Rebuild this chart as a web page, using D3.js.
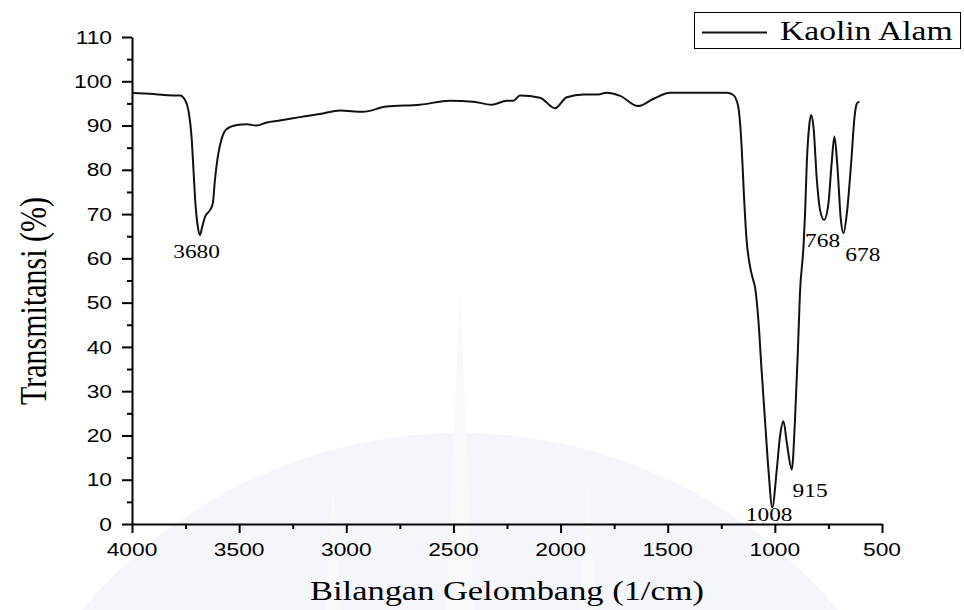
<!DOCTYPE html>
<html>
<head>
<meta charset="utf-8">
<script src="https://cdn.jsdelivr.net/npm/d3@7"></script>
<style>
  body { margin: 0; background: #fff; }
  svg { display: block; }
</style>
</head>
<body>
<svg id="chart" width="964" height="610"></svg>
<script>
// wavenumber (1/cm) and transmittance (%)
const wavenumber = [4000, 3900, 3850, 3800, 3776, 3753, 3737, 3721, 3714, 3703, 3693, 3683, 3672, 3659, 3636, 3623, 3613, 3597, 3581, 3558, 3511, 3465, 3418, 3371, 3317, 3216, 3123, 3029, 2922, 2812, 2656, 2516, 2408, 2321, 2251, 2221, 2189, 2096, 2026, 1971, 1893, 1831, 1785, 1722, 1638, 1568, 1489, 1225, 1194, 1171, 1155, 1144, 1132, 1116, 1101, 1093, 1077, 1062, 1046, 1030, 1012, 991, 976, 960, 944, 921, 906, 893, 883, 866, 859, 851, 840, 831, 820, 804, 789, 770, 750, 735, 722, 708, 692, 680, 664, 644, 628, 617, 605];
const transmit = [97.4, 97.1, 96.9, 96.8, 96.8, 95.8, 93.5, 86.7, 80.8, 71.7, 67.2, 65.3, 67.2, 69.4, 70.9, 72.4, 77.7, 83.7, 87.1, 89.2, 90.1, 90.3, 90.0, 90.7, 91.1, 91.9, 92.6, 93.4, 93.1, 94.3, 94.7, 95.6, 95.4, 94.7, 95.6, 95.6, 96.8, 96.3, 93.9, 96.4, 97.0, 97.0, 97.4, 96.7, 94.4, 96.0, 97.4, 97.4, 96.9, 94.3, 85.2, 74.0, 64.2, 58.2, 55.1, 53.6, 46.1, 34.8, 23.5, 12.3, 3.8, 12.3, 19.8, 23.2, 18.3, 12.3, 23.5, 38.6, 52.0, 63.0, 70.2, 81.5, 89.8, 92.4, 89.8, 77.7, 70.9, 68.7, 72.4, 81.5, 87.5, 80.7, 68.7, 65.7, 70.2, 81.5, 92.0, 95.0, 95.4];

const xTicks = [4000, 3500, 3000, 2500, 2000, 1500, 1000, 500];
const yTicks = [0, 10, 20, 30, 40, 50, 60, 70, 80, 90, 100, 110];

// labelled peaks
const peakLabels = ["3680", "1008", "915", "768", "678"];
const peakValues = [3680, 1008, 915, 768, 678];
const peakDx = [-4, -4, 17, -2, 19];
const peakDy = [23, 14, 27, 27, 28];

const seriesName = "Kaolin Alam";

const svg = d3.select("#chart");
const plotLeft = 132, plotRight = 882, plotTop = 37, plotBottom = 524;
const stretch = 1.23;

const x = d3.scaleLinear().domain([4000, 500]).range([plotLeft, plotRight]);
const y = d3.scaleLinear().domain([0, 110]).range([plotBottom, plotTop]);

// faint watermark in the background
const wm = svg.append("g");
wm.append("circle").attr("cx", 460).attr("cy", 925).attr("r", 492).attr("fill", "#f4f6fc");
[[460, 288, 14], [333, 485, 8], [588, 485, 8]].forEach(s => {
  wm.append("path")
    .attr("d", `M${s[0]},${s[1]} L${s[0] - s[2]},610 L${s[0] + s[2]},610 Z`)
    .attr("fill", "#f9f9fa");
});

// axes
const xAxis = svg.append("g").attr("transform", `translate(0,${plotBottom})`)
  .call(d3.axisBottom(x).tickValues(d3.range(4000, 499, -250)).tickSize(9).tickSizeOuter(0).tickFormat(""));
xAxis.selectAll(".tick line").attr("y2", d => d % 500 === 0 ? 9 : 5);

const yAxis = svg.append("g").attr("transform", `translate(${plotLeft},0)`)
  .call(d3.axisLeft(y).tickValues(d3.range(0, 111, 5)).tickSize(9).tickSizeOuter(0).tickFormat(""));
yAxis.selectAll(".tick line").attr("x2", d => d % 10 === 0 ? -10 : -5);

svg.selectAll(".domain, .tick line").attr("stroke", "#000").attr("stroke-width", 2);

// tick labels, slightly stretched like the original
svg.append("g").selectAll("text").data(xTicks).join("text")
  .attr("transform", d => `translate(${x(d)},556) scale(${stretch},1)`)
  .attr("text-anchor", "middle")
  .style("font-family", "'Liberation Sans', Arial, sans-serif")
  .style("font-size", "18.5px")
  .text(d => d);

svg.append("g").selectAll("text").data(yTicks).join("text")
  .attr("transform", d => `translate(112,${y(d) + 6.6}) scale(${stretch},1)`)
  .attr("text-anchor", "end")
  .style("font-family", "'Liberation Sans', Arial, sans-serif")
  .style("font-size", "18.5px")
  .text(d => d);

// axis titles
svg.append("text")
  .attr("transform", `translate(507,600) scale(${stretch},1)`)
  .attr("text-anchor", "middle")
  .style("font-family", "'Liberation Serif', 'Times New Roman', serif")
  .style("font-size", "28px")
  .text("Bilangan Gelombang (1/cm)");

svg.append("text")
  .attr("transform", `translate(46,301) scale(${stretch},1) rotate(-90)`)
  .attr("text-anchor", "middle")
  .style("font-family", "'Liberation Serif', 'Times New Roman', serif")
  .style("font-size", "30px")
  .text("Transmitansi (%)");

// spectrum
const pts = wavenumber.map((w, i) => [w, transmit[i]]);
const line = d3.line().x(d => x(d[0])).y(d => y(d[1])).curve(d3.curveMonotoneX);
svg.append("path")
  .datum(pts)
  .attr("d", line)
  .attr("fill", "none")
  .attr("stroke", "#111")
  .attr("stroke-width", 2);

// peak labels
peakLabels.forEach((lab, i) => {
  const idx = d3.minIndex(wavenumber, w => Math.abs(w - peakValues[i]));
  svg.append("text")
    .attr("transform", `translate(${x(peakValues[i]) + peakDx[i]},${y(transmit[idx]) + peakDy[i]}) scale(${stretch},1)`)
    .attr("text-anchor", "middle")
    .style("font-family", "'Liberation Serif', 'Times New Roman', serif")
    .style("font-size", "19px")
    .text(lab);
});

// legend
const lg = svg.append("g");
lg.append("rect").attr("x", 694.5).attr("y", 12.5).attr("width", 266).attr("height", 36)
  .attr("fill", "#fff").attr("stroke", "#000").attr("stroke-width", 1);
lg.append("line").attr("x1", 702).attr("x2", 767).attr("y1", 32.5).attr("y2", 32.5)
  .attr("stroke", "#111").attr("stroke-width", 2);
lg.append("text")
  .attr("transform", `translate(780,40) scale(${stretch - 0.03},1)`)
  .style("font-family", "'Liberation Serif', 'Times New Roman', serif")
  .style("font-size", "28px")
  .text(seriesName);
</script>
</body>
</html>
